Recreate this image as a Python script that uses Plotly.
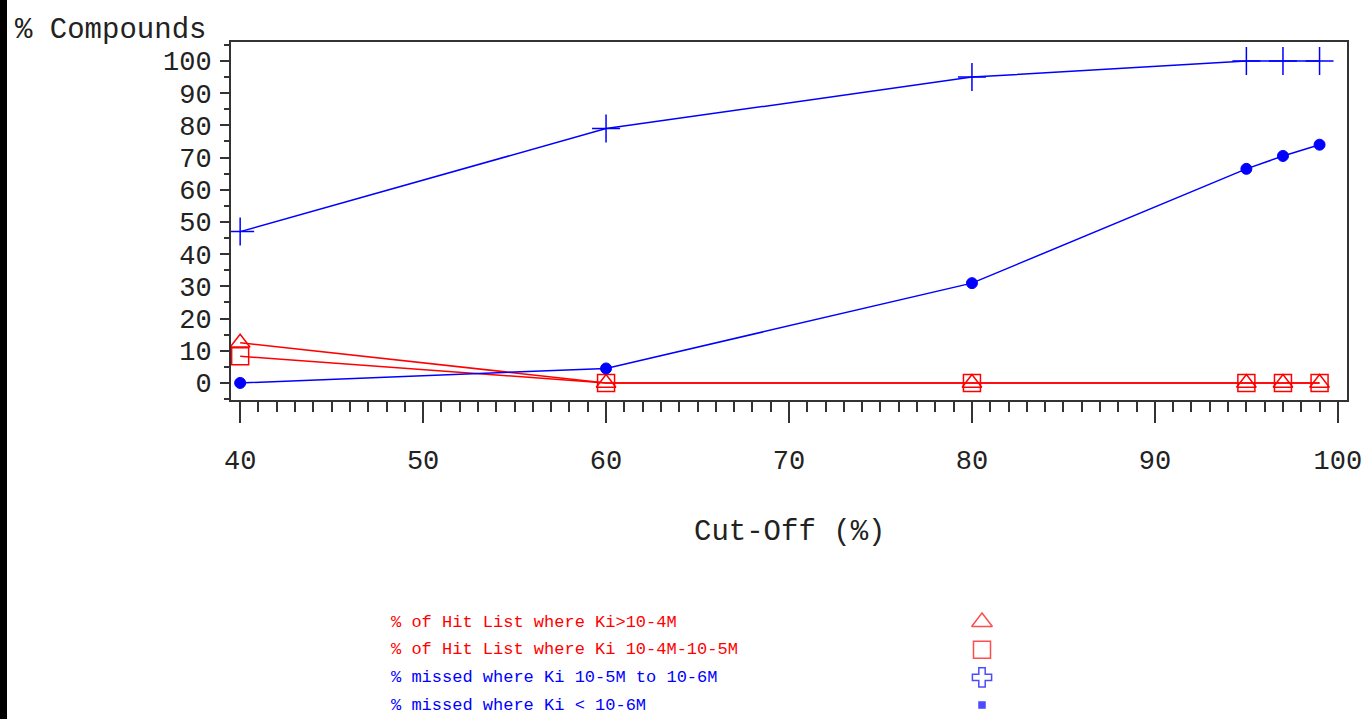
import plotly.graph_objects as go

cutoff = [40, 60, 80, 95, 97, 99]
hit_gt_1e4 = [12.5, 0, 0, 0, 0, 0]
hit_1e4_1e5 = [8.3, 0, 0, 0, 0, 0]
missed_1e5_1e6 = [47, 79, 95, 100, 100, 100]
missed_lt_1e6 = [0, 4.5, 31, 66.5, 70.5, 74]

legend_labels = [
    "% of Hit List where Ki>10-4M",
    "% of Hit List where Ki 10-4M-10-5M",
    "% missed where Ki 10-5M to 10-6M",
    "% missed where Ki < 10-6M",
]
RED = "#ff0000"
BLUE = "#0000ff"
legend_colors = [RED, RED, BLUE, BLUE]
legend_symbols = ["triangle-up-open", "square-open", "cross-open", "square"]
legend_sizes = [18, 17, 16, 6]

W, H = 1368, 719
ML, MR, MT, MB = 231, 21, 42, 1
pw = W - ML - MR
ph = H - MT - MB
def px_x(p):
    return (p - ML) / pw
def px_y(p):
    return (H - MB - p) / ph

TXT = "#222222"
FONT = "Liberation Mono"

fig = go.Figure()

series = [
    (hit_gt_1e4, RED, "triangle-up-open", 17, 1.5),
    (hit_1e4_1e5, RED, "square-open", 17, 1.5),
    (missed_1e5_1e6, BLUE, "cross-thin-open", 20, 1.5),
    (missed_lt_1e6, BLUE, "circle", 11, 1),
]
for vals, col, sym, sz, lw in series:
    fig.add_trace(go.Scatter(
        x=cutoff, y=vals, mode="lines+markers",
        line=dict(color=col, width=1.5),
        marker=dict(symbol=sym, size=sz, color=col, line=dict(color=col, width=lw)),
        showlegend=False, xaxis="x", yaxis="y",
    ))

# legend symbols on their own small axes
fig.add_trace(go.Scatter(
    x=[0] * len(legend_labels), y=list(range(len(legend_labels))), mode="markers",
    marker=dict(symbol=legend_symbols, size=legend_sizes, color=legend_colors,
                line=dict(color=legend_colors, width=1.5)),
    showlegend=False, xaxis="x2", yaxis="y2", hoverinfo="skip",
))

row0, rowstep = 622, 27.7
y2_top = (600 - row0) / rowstep
y2_bot = ((H - MB) - row0) / rowstep

annotations = []
for i, (lab, col) in enumerate(zip(legend_labels, legend_colors)):
    annotations.append(dict(
        text=lab, x=px_x(389), y=i, xref="paper", yref="y2",
        xanchor="left", yanchor="middle", showarrow=False,
        font=dict(family="Liberation Mono", size=17, color=col),
    ))
annotations.append(dict(
    text="% Compounds", x=px_x(13), y=px_y(31), xref="paper", yref="paper",
    xanchor="left", yanchor="middle", showarrow=False,
    font=dict(family=FONT, size=29, color=TXT),
))
annotations.append(dict(
    text="Cut-Off (%)", x=0.5, y=px_y(532), xref="paper", yref="paper",
    xanchor="center", yanchor="middle", showarrow=False,
    font=dict(family=FONT, size=29, color=TXT),
))

fig.update_layout(
    width=W, height=H,
    margin=dict(l=ML, r=MR, t=MT, b=MB),
    paper_bgcolor="white", plot_bgcolor="white",
    xaxis=dict(
        range=[39.5, 100.5], domain=[0, 1], anchor="y",
        tickmode="array", tickvals=[40, 50, 60, 70, 80, 90, 100],
        ticks="outside", ticklen=21, tickwidth=2, tickcolor="#333",
        minor=dict(dtick=1, tick0=40, ticks="outside", ticklen=10, tickwidth=2, tickcolor="#333"),
        showline=True, mirror=True, linecolor="#333", linewidth=2,
        showgrid=False, zeroline=False,
        ticklabelstandoff=14,
        tickfont=dict(family=FONT, size=27, color=TXT),
    ),
    yaxis=dict(
        range=[-5.3, 105.9], domain=[px_y(400), 1], anchor="x",
        tickmode="array", tickvals=list(range(0, 101, 10)),
        ticks="outside", ticklen=9, tickwidth=2, tickcolor="#333",
        minor=dict(dtick=5, tick0=0, ticks="outside", ticklen=5, tickwidth=2, tickcolor="#333"),
        showline=True, mirror=True, linecolor="#333", linewidth=2,
        showgrid=False, zeroline=False,
        ticklabelstandoff=3,
        tickfont=dict(family=FONT, size=27, color=TXT),
    ),
    xaxis2=dict(domain=[px_x(962), px_x(1002)], range=[-1, 1], anchor="y2",
                visible=False, fixedrange=True),
    yaxis2=dict(domain=[0, px_y(600)], range=[y2_bot, y2_top], anchor="x2",
                visible=False, fixedrange=True),
    annotations=annotations,
    shapes=[dict(type="rect", xref="paper", yref="paper",
                 x0=px_x(0), x1=px_x(7), y0=px_y(H + 5), y1=px_y(-5),
                 fillcolor="black", line=dict(width=0), layer="above")],
)

fig.write_html(
    "out.html",
    config={"displayModeBar": False},
    post_script="document.body.style.margin='0px';document.body.style.overflow='hidden';",
)
